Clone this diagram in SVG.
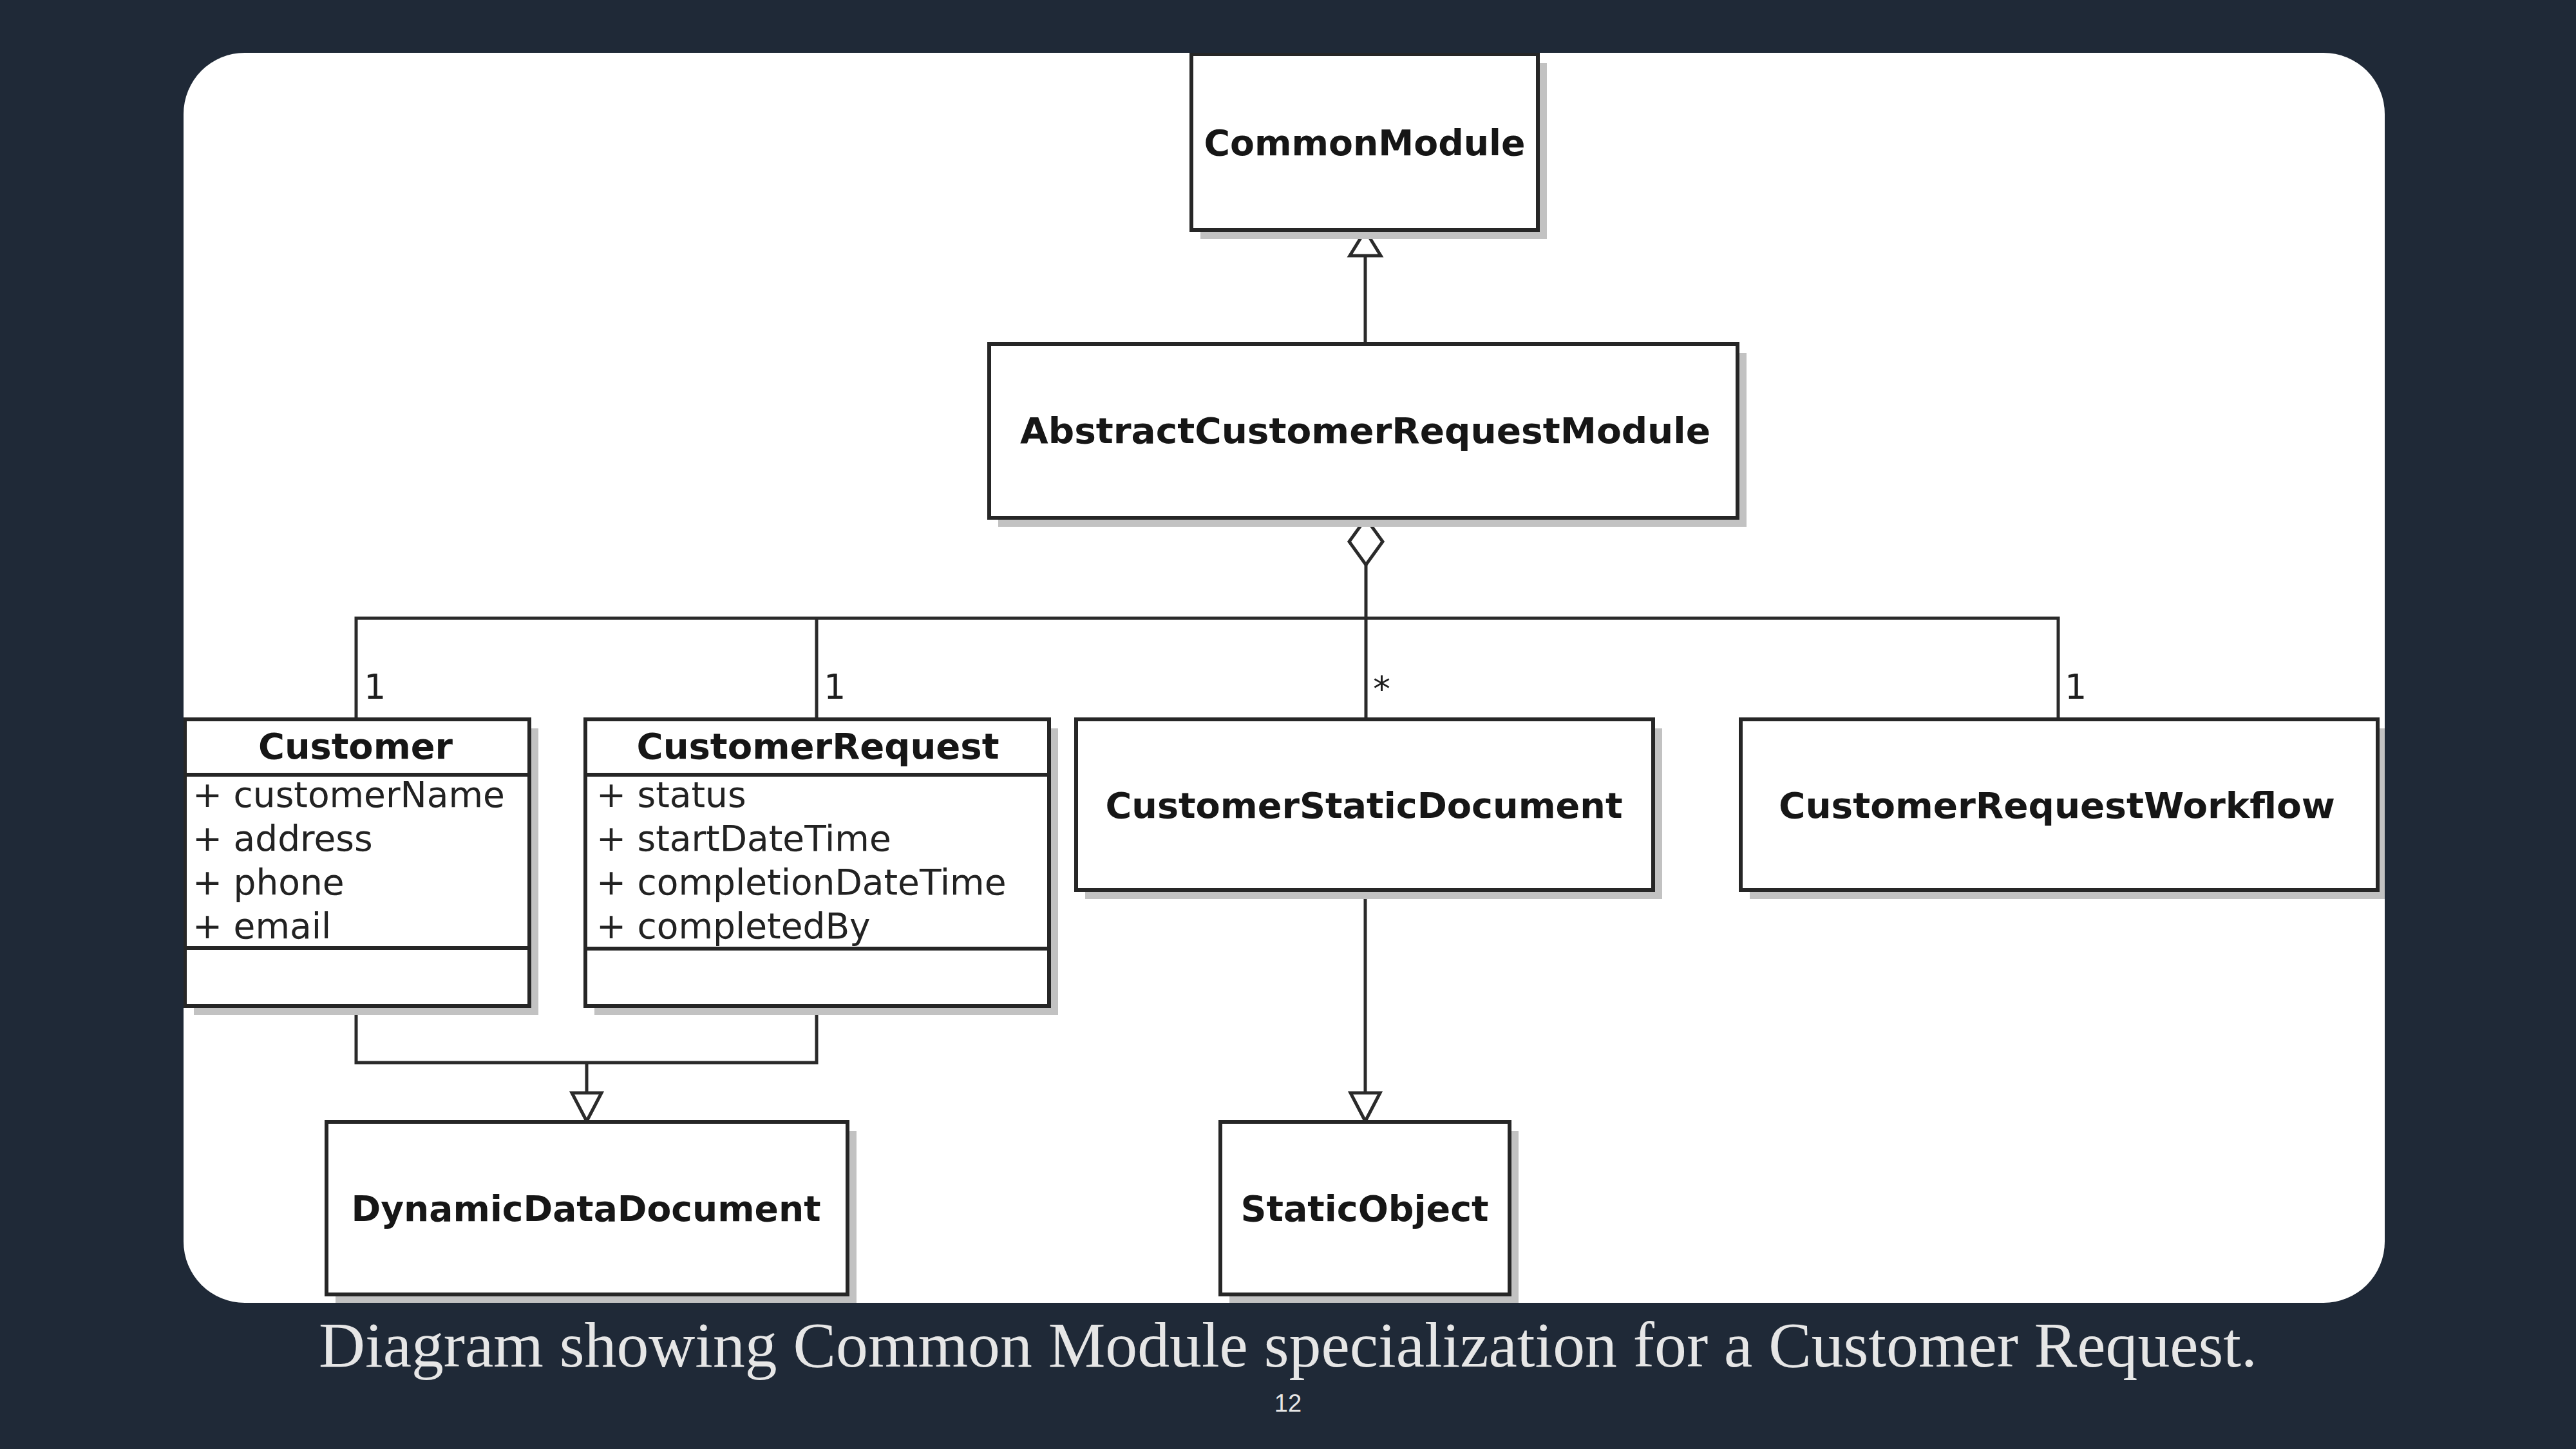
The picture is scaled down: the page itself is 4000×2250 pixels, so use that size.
<svg xmlns="http://www.w3.org/2000/svg" width="4000" height="2250" viewBox="0 0 4000 2250">
<defs>
<clipPath id="panelClip"><rect x="285" y="82" width="3418" height="1941" rx="95" ry="95"/></clipPath>
<style>
.shadow{fill:#c2c2c2;}
.box{fill:#ffffff;stroke:#262626;stroke-width:6;}
.div{stroke:#262626;stroke-width:6;}
.cls{font-family:"DejaVu Sans","Liberation Sans",sans-serif;font-weight:bold;font-size:56px;fill:#161616;text-anchor:middle;}
.attr{font-family:"DejaVu Sans","Liberation Sans",sans-serif;font-size:55px;fill:#222222;}
.mult{font-family:"DejaVu Sans","Liberation Sans",sans-serif;font-size:54px;fill:#1e1e1e;}
.ln{fill:none;stroke:#2a2a2a;stroke-width:5;}
.head{fill:#ffffff;stroke:#2a2a2a;stroke-width:5;stroke-linejoin:miter;}
.caption{font-family:"Liberation Serif","Times New Roman",serif;font-size:100px;fill:#e6e6e6;text-anchor:middle;}
.page{font-family:"Liberation Sans",Arial,sans-serif;font-size:38px;fill:#e6e6e6;text-anchor:middle;}
</style>
</defs>
<rect x="0" y="0" width="4000" height="2250" fill="#1f2937"/>
<rect x="285" y="82" width="3418" height="1941" rx="95" ry="95" fill="#ffffff"/>
<g clip-path="url(#panelClip)">
<g id="connectors">
<line class="ln" x1="2120" y1="397" x2="2120" y2="534"/>
<polygon class="head" points="2120,358 2096,397 2144,397"/>
<line class="ln" x1="2121" y1="877" x2="2121" y2="1117"/>
<polygon class="head" points="2121,805 2147,841 2121,877 2095,841"/>
<polyline class="ln" points="553,1117 553,960 3196,960 3196,1117"/>
<line class="ln" x1="1268" y1="960" x2="1268" y2="1117"/>
<polyline class="ln" points="553,1562 553,1650 1268,1650 1268,1562"/>
<line class="ln" x1="911" y1="1650" x2="911" y2="1697"/>
<polygon class="head" points="911,1741 888,1697 934,1697"/>
<line class="ln" x1="2120" y1="1382" x2="2120" y2="1697"/>
<polygon class="head" points="2120,1741 2097,1697 2143,1697"/>
<text class="mult" x="565" y="1085">1</text>
<text class="mult" x="1279" y="1085">1</text>
<text class="mult" x="2132" y="1088">*</text>
<text class="mult" x="3206" y="1085">1</text>
</g>
<g id="node-commonmodule">
<rect class="shadow" x="1864" y="98" width="538" height="273"/>
<rect class="box" x="1850" y="84" width="538" height="273"/>
<text class="cls" x="2119" y="241" textLength="499" lengthAdjust="spacingAndGlyphs">CommonModule</text>
</g>
<g id="node-abstract">
<rect class="shadow" x="1550" y="548" width="1162" height="270"/>
<rect class="box" x="1536" y="534" width="1162" height="270"/>
<text class="cls" x="2120" y="688" textLength="1072" lengthAdjust="spacingAndGlyphs">AbstractCustomerRequestModule</text>
</g>
<g id="node-customer">
<rect class="shadow" x="301" y="1131" width="535" height="445"/>
<rect class="box" x="287" y="1117" width="535" height="445"/>
<line class="div" x1="287" y1="1203" x2="822" y2="1203"/>
<line class="div" x1="287" y1="1472" x2="822" y2="1472"/>
<text class="cls" x="552" y="1178" textLength="302" lengthAdjust="spacingAndGlyphs">Customer</text>
<text class="attr" x="299" y="1253">+ customerName</text>
<text class="attr" x="299" y="1321">+ address</text>
<text class="attr" x="299" y="1389">+ phone</text>
<text class="attr" x="299" y="1457">+ email</text>
</g>
<g id="node-customerrequest">
<rect class="shadow" x="923" y="1131" width="720" height="445"/>
<rect class="box" x="909" y="1117" width="720" height="445"/>
<line class="div" x1="909" y1="1203" x2="1629" y2="1203"/>
<line class="div" x1="909" y1="1473" x2="1629" y2="1473"/>
<text class="cls" x="1270" y="1178" textLength="563" lengthAdjust="spacingAndGlyphs">CustomerRequest</text>
<text class="attr" x="926" y="1253">+ status</text>
<text class="attr" x="926" y="1321">+ startDateTime</text>
<text class="attr" x="926" y="1389">+ completionDateTime</text>
<text class="attr" x="926" y="1457">+ completedBy</text>
</g>
<g id="node-customerstaticdocument">
<rect class="shadow" x="1685" y="1131" width="896" height="265"/>
<rect class="box" x="1671" y="1117" width="896" height="265"/>
<text class="cls" x="2118" y="1270" textLength="803" lengthAdjust="spacingAndGlyphs">CustomerStaticDocument</text>
</g>
<g id="node-customerrequestworkflow">
<rect class="shadow" x="2717" y="1131" width="989" height="265"/>
<rect class="box" x="2703" y="1117" width="989" height="265"/>
<text class="cls" x="3194" y="1270" textLength="864" lengthAdjust="spacingAndGlyphs">CustomerRequestWorkflow</text>
</g>
<g id="node-dynamicdatadocument">
<rect class="shadow" x="521" y="1756" width="809" height="268"/>
<rect class="box" x="507" y="1742" width="809" height="268"/>
<text class="cls" x="910" y="1896" textLength="729" lengthAdjust="spacingAndGlyphs">DynamicDataDocument</text>
</g>
<g id="node-staticobject">
<rect class="shadow" x="1909" y="1756" width="449" height="268"/>
<rect class="box" x="1895" y="1742" width="449" height="268"/>
<text class="cls" x="2119" y="1896" textLength="385" lengthAdjust="spacingAndGlyphs">StaticObject</text>
</g>
</g>
<text class="caption" x="2000" y="2122" textLength="3010" lengthAdjust="spacingAndGlyphs">Diagram showing Common Module specialization for a Customer Request.</text>
<text class="page" x="2000" y="2192">12</text>
</svg>
